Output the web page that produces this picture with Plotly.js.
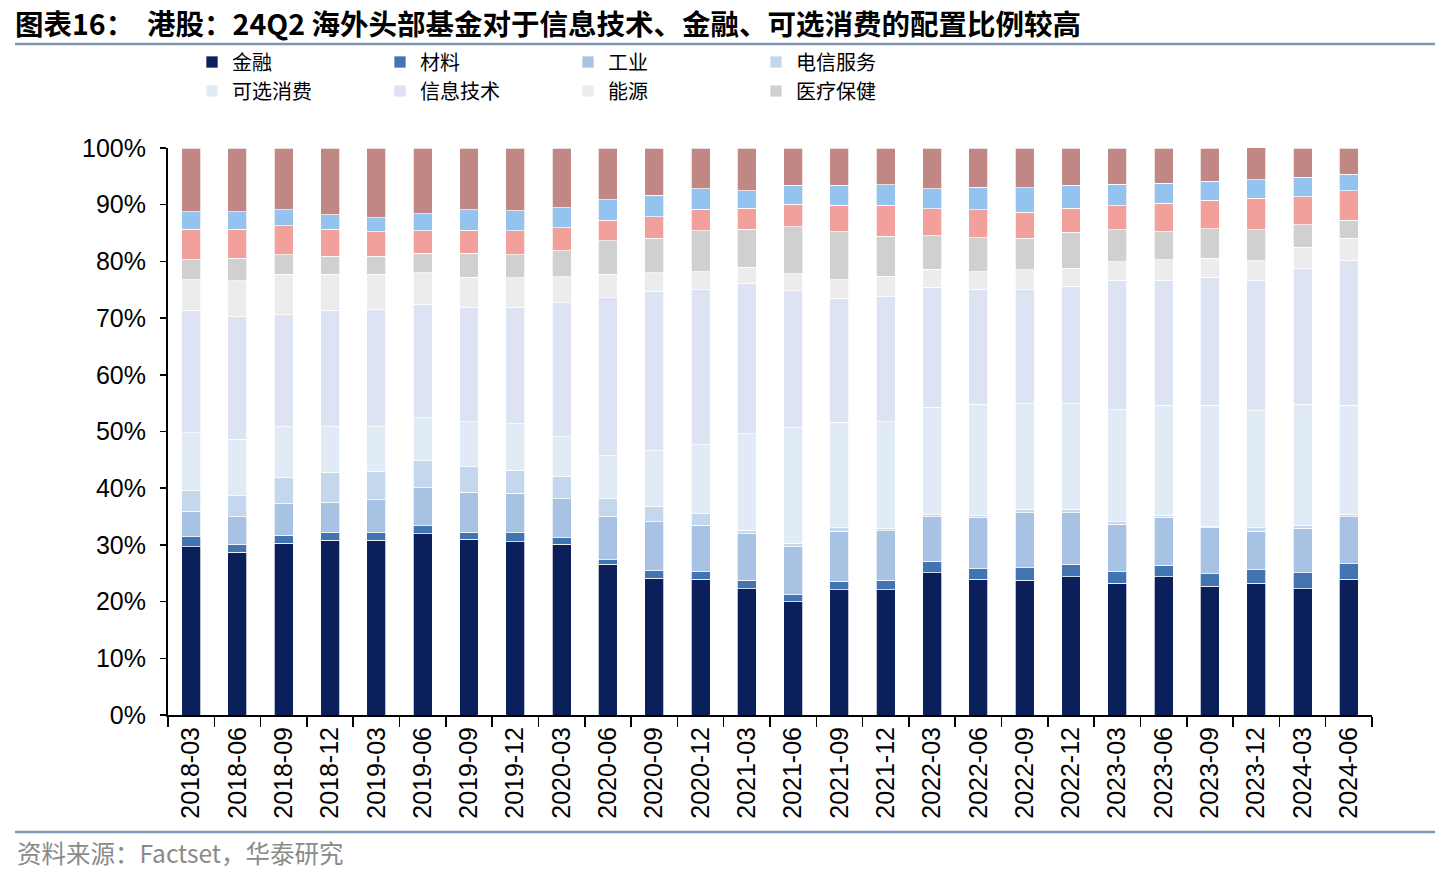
<!DOCTYPE html>
<html>
<head>
<meta charset="utf-8">
<script src="https://cdn.plot.ly/plotly-3.0.1.min.js"></script>
<style>html,body{margin:0;padding:0;background:#fff}#chart{width:1456px;height:888px}</style>
</head>
<body>
<div id="chart"></div>
<script>
const categories = ["2018-03","2018-06","2018-09","2018-12","2019-03","2019-06","2019-09","2019-12","2020-03","2020-06","2020-09","2020-12","2021-03","2021-06","2021-09","2021-12","2022-03","2022-06","2022-09","2022-12","2023-03","2023-06","2023-09","2023-12","2024-03","2024-06"];

const finance     = [29.7,28.7,30.3,30.8,30.8,32.0,31.0,30.6,30.1,26.6,24.1,23.9,22.3,20.0,22.1,22.1,25.1,23.9,23.8,24.4,23.2,24.4,22.7,23.2,22.3,23.9];
const materials   = [1.7,1.4,1.4,1.4,1.3,1.4,1.2,1.5,1.2,0.8,1.3,1.4,1.5,1.2,1.5,1.7,2.0,1.9,2.2,2.2,2.1,2.0,2.2,2.4,2.8,2.8];
const industrials = [4.5,4.9,5.6,5.3,5.9,6.7,7.1,7.0,6.8,7.6,8.7,8.2,8.2,8.5,8.8,8.7,7.9,9.1,9.7,9.1,8.3,8.5,8.1,6.8,7.8,8.3];
const telecom     = [3.7,3.7,4.5,5.3,5.0,4.7,4.5,4.1,4.0,3.1,2.7,2.0,0.6,0.6,0.6,0.4,0.3,0.2,0.5,0.5,0.5,0.3,0.3,0.6,0.5,0.4];
const consDisc    = [10.2,9.9,9.0,8.0,7.8,7.6,7.9,8.2,7.0,7.6,9.8,12.2,17.0,20.4,18.6,18.8,19.0,19.7,18.7,18.7,19.7,19.4,21.3,20.7,21.4,19.2];
const infoTech    = [21.6,21.7,19.8,20.6,20.7,20.0,20.1,20.5,23.6,27.9,28.1,27.3,26.5,24.1,21.9,22.1,21.1,20.3,20.1,20.7,22.9,22.1,22.6,23.0,24.0,25.6];
const energy      = [5.4,6.3,7.1,6.3,6.2,5.6,5.4,5.2,4.6,4.1,3.3,3.2,2.9,3.0,3.3,3.6,3.2,3.1,3.5,3.2,3.2,3.6,3.4,3.4,3.7,3.9];
const healthCare  = [3.5,4.0,3.5,3.2,3.2,3.4,4.2,4.1,4.6,5.9,6.1,7.2,6.7,8.3,8.4,7.0,5.9,6.0,5.6,6.3,5.7,4.9,5.2,5.5,4.0,3.2];
const consStaples = [5.4,5.1,5.1,4.8,4.3,4.0,4.1,4.2,4.0,3.7,3.8,3.8,3.7,4.0,4.7,5.5,4.8,4.9,4.6,4.3,4.2,5.1,5.0,5.5,4.9,5.2];
const utilities   = [3.1,3.1,2.8,2.5,2.5,3.0,3.6,3.5,3.6,3.6,3.8,3.6,3.1,3.3,3.5,3.6,3.5,4.0,4.3,4.0,3.8,3.5,3.3,3.3,3.4,2.9];
const realEstate  = [11.2,11.2,10.9,11.8,12.3,11.6,10.9,11.1,10.5,9.1,8.3,7.2,7.5,6.6,6.6,6.5,7.2,6.9,7.0,6.6,6.4,6.2,5.9,6.1,5.2,4.6];

const yTickVals   = [0,10,20,30,40,50,60,70,80,90,100];
const yTickLabels = ["0%","10%","20%","30%","40%","50%","60%","70%","80%","90%","100%"];

const seriesNames = ["金融","材料","工业","电信服务","可选消费","信息技术","能源","医疗保健","日常消费","公用事业","房地产"];
const seriesData = [finance,materials,industrials,telecom,consDisc,infoTech,energy,healthCare,consStaples,utilities,realEstate];
const seriesColors = ["#0b1f5b","#4374b2","#a7c2e3","#c4d7ec","#e1ebf6","#dde3f3","#ececec","#d0d0d0","#f2a09c","#93c3ee","#c08784"];

const traces = seriesData.map((vals,i) => ({
  type: "bar",
  name: seriesNames[i],
  x: categories,
  y: vals,
  marker: {color: seriesColors[i], line: {color: "rgba(255,255,255,0.9)", width: 0.8}},
  showlegend: i < 8,
  legend: i < 4 ? "legend" : "legend2",
  hoverinfo: "x+y+name"
}));

const W = 1456, H = 888;
const L = 168, R = 84, T = 148, B = 173;
const pw = W - L - R, ph = H - T - B;
const px = v => (v - L) / pw;
const py = v => (H - B - v) / ph;

const legendCommon = {
  orientation: "h",
  font: {family: "Noto Sans CJK SC", size: 20, color: "#000"},
  entrywidth: 143, entrywidthmode: "pixels",
  itemwidth: 30,
  bgcolor: "rgba(0,0,0,0)",
  xanchor: "left", yanchor: "middle",
  tracegroupgap: 0,
  traceorder: "normal"
};

const layout = {
  width: W, height: H,
  margin: {l: L, r: R, t: T, b: B, pad: 0},
  paper_bgcolor: "#fff", plot_bgcolor: "#fff",
  barmode: "stack",
  bargap: 0.59,
  title: {
    text: "<b>图表16：  港股：24Q2 海外头部基金对于信息技术、金融、可选消费的配置比例较高</b>",
    font: {family: "Noto Sans CJK SC", size: 28.5, color: "#000"},
    x: 15/W, xref: "container", xanchor: "left",
    y: 1 - 25/H, yref: "container", yanchor: "middle"
  },
  xaxis: {
    type: "category",
    showline: true, linecolor: "#000", linewidth: 2,
    ticks: "outside", tickson: "boundaries", ticklen: 10, tickwidth: 1.5, tickcolor: "#000",
    tickangle: -90,
    tickfont: {family: "Liberation Sans, Arial, sans-serif", size: 25, color: "#000"},
    showgrid: false, zeroline: false
  },
  yaxis: {
    range: [0, 100],
    tickmode: "array",
    tickvals: yTickVals,
    ticktext: yTickLabels,
    showline: true, linecolor: "#000", linewidth: 2,
    ticks: "outside", ticklen: 6, tickwidth: 1.5, tickcolor: "#000",
    ticklabelstandoff: 9,
    tickfont: {family: "Liberation Sans, Arial, sans-serif", size: 25, color: "#000"},
    showgrid: false, zeroline: false
  },
  legend: Object.assign({}, legendCommon, {x: px(192), y: py(62)}),
  legend2: Object.assign({}, legendCommon, {x: px(192), y: py(91)}),
  shapes: [
    {type: "line", xref: "paper", yref: "paper", x0: px(15), x1: px(1435), y0: py(44), y1: py(44), line: {color: "#8096b9", width: 2.5}},
    {type: "line", xref: "paper", yref: "paper", x0: px(15), x1: px(1435), y0: py(832), y1: py(832), line: {color: "#8096b9", width: 2.5}}
  ],
  annotations: [
    {text: "资料来源：Factset，华泰研究", xref: "paper", yref: "paper", x: px(15), y: py(853), xanchor: "left", yanchor: "middle", showarrow: false,
     font: {family: "Noto Sans CJK SC", size: 24.5, color: "#8a8a8a"}}
  ],
  hovermode: "closest"
};

Plotly.newPlot("chart", traces, layout, {displayModeBar: false, staticPlot: true});
</script>
</body>
</html>
